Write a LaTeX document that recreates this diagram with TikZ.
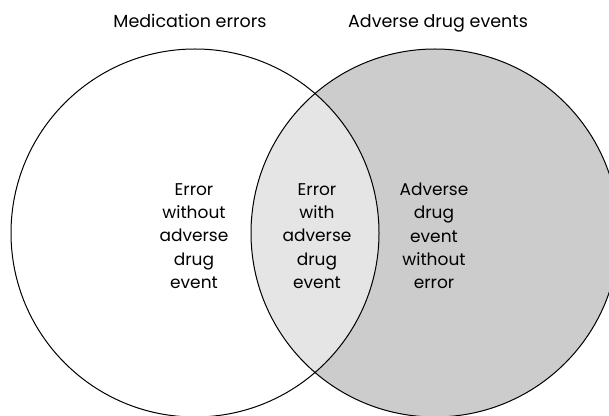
\documentclass[tikz,border=0pt]{standalone}
\usepackage{fontspec}
\setmainfont{Poppins}
\usepackage{tikz}
\usetikzlibrary{positioning}

\begin{document}
\begin{tikzpicture}[
            x=1pt, y=1pt,
            venn/.style={draw=black, line width=1pt},
            title/.style={anchor=base, font=\fontsize{17.5}{21}\selectfont},
            region/.style={align=center, font=\fontsize{17}{23.3}\selectfont}
        ]

% Frame
            \clip (0,0) rectangle (609,415);

% Shaded areas
            \fill[black!20] (435,182) circle (184pt);
            \begin{scope}
                \clip (195,182) circle (184pt);
                \fill[black!10] (435,182) circle (184pt);
            \end{scope}

% Circles
            \draw[venn] (195,182) circle (184pt);
            \draw[venn] (435,182) circle (184pt);

% Set titles
            \node[title] (med_title) at (190,387) {Medication errors};
            \node[title] (ade_title) at (438,387) {Adverse drug events};

% Region labels
            \node[region] (error_only) at (194,179) {Error\\without\\adverse\\drug\\event};
            \node[region] (error_ade) at (317,179) {Error\\with\\adverse\\drug\\event};
            \node[region] (ade_only) at (434,179) {Adverse\\drug\\event\\without\\error};

        \end{tikzpicture}
\end{document}
